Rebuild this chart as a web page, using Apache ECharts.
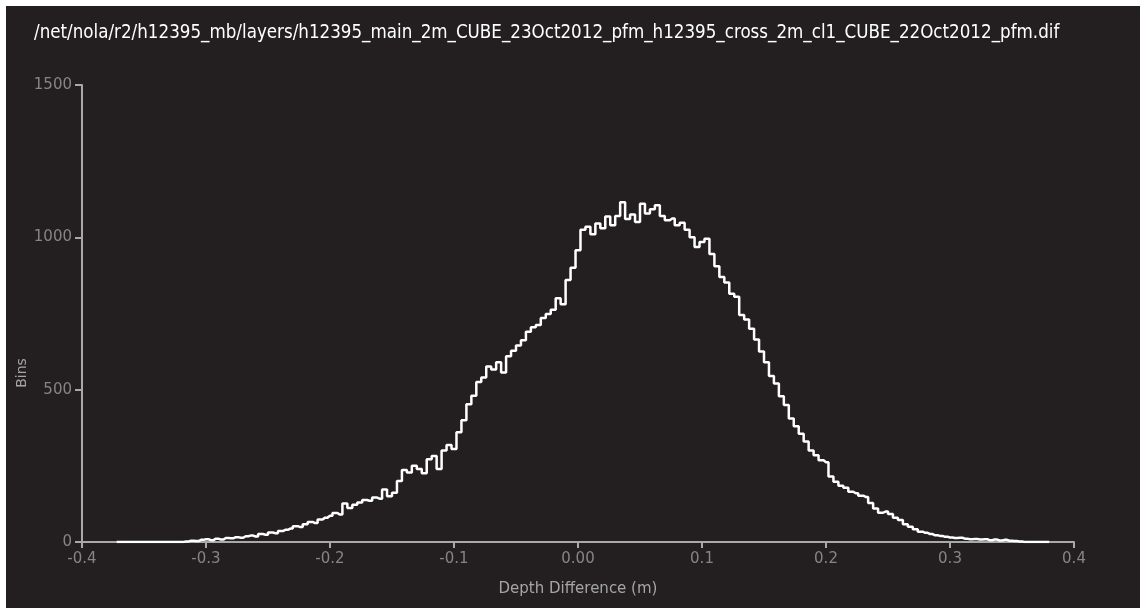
<!DOCTYPE html>
<html>
<head>
<meta charset="utf-8">
<script src="https://cdn.jsdelivr.net/npm/echarts@6/dist/echarts.min.js"></script>
<style>
  html, body { margin: 0; padding: 0; background: #ffffff; }
  #chart { position: absolute; left: 6px; top: 6px; width: 1134px; height: 602px; }
</style>
</head>
<body>
<div id="chart"></div>
<script>
// Histogram of depth differences, bins 0.004 m wide starting at -0.372 m
const titleText = '/net/nola/r2/h12395_mb/layers/h12395_main_2m_CUBE_23Oct2012_pfm_h12395_cross_2m_cl1_CUBE_22Oct2012_pfm.dif';
const yName = 'Bins';
const binStart = -0.372;
const binWidth = 0.004;

const counts = [
  0, 0, 0, 0, 0, 0, 0, 0, 0, 0, 0, 0, 0, 0,
  2, 4, 3, 7, 9, 6, 11, 8, 13, 12,
  16, 14, 19, 21, 18, 26, 24, 31, 29, 36,
  40, 44, 52, 49, 58, 66, 62, 74, 80, 86,
  95, 90, 126, 112, 122, 130, 138, 135, 146, 142,
  172, 150, 162, 200, 236, 228, 250, 240, 226, 272,
  282, 240, 300, 318, 305, 360, 400, 452, 480, 525,
  540, 576, 566, 590, 556, 610, 628, 645, 662, 690,
  705, 712, 735, 748, 762, 800, 780, 860, 900, 958,
  1025, 1035, 1010, 1045, 1030, 1068, 1040, 1070, 1115, 1060,
  1075, 1050, 1110, 1078, 1092, 1105, 1070, 1056, 1062, 1040,
  1048, 1025, 1000, 968, 985, 995, 945, 905, 870, 852,
  815, 805, 745, 730, 700, 665, 625, 590, 545, 520,
  478, 450, 405, 380, 355, 330, 300, 285, 268, 262,
  215, 198, 185, 178, 165, 160, 152, 148, 128, 110,
  96, 100, 92, 80, 72, 58, 50, 42, 34, 30,
  26, 22, 20, 17, 15, 13, 14, 11, 9, 10,
  8, 9, 6, 8, 5, 7, 4, 3, 2,
  0, 0, 0, 0, 0, 0
];

const xTicks = [-0.4, -0.3, -0.2, -0.1, 0, 0.1, 0.2, 0.3, 0.4];
const yTicks = [0, 500, 1000, 1500];

// pair each count with its bin centre
const seriesData = counts.map((c, i) => [+(binStart + i * binWidth).toFixed(3), c]);

const chart = echarts.init(document.getElementById('chart'));

const axisGrey = '#a9a9a9';
const labelGrey = '#858585';
const fontFam = 'DejaVu Sans';

const option = {
  backgroundColor: '#231f20',
  animation: false,
  title: {
    text: titleText,
    left: 28,
    top: 18,
    padding: 0,
    textStyle: { color: '#ffffff', fontFamily: 'DejaVu Sans Condensed', fontSize: 18.6, fontWeight: 'normal' }
  },
  // y-axis name sits below the axis middle in the original, so place it by hand
  graphic: [{
    type: 'text',
    x: 16,
    y: 367,
    rotation: Math.PI / 2,
    style: {
      text: yName, fill: '#a5a5a5', font: '14px "DejaVu Sans"',
      align: 'center', verticalAlign: 'middle'
    }
  }],
  grid: { left: 76, right: 66, top: 79, bottom: 66, containLabel: false, outerBoundsMode: 'none' },
  xAxis: {
    type: 'value',
    min: xTicks[0],
    max: xTicks[xTicks.length - 1],
    interval: 0.1,
    name: 'Depth Difference (m)',
    nameLocation: 'middle',
    nameGap: 40,
    nameTextStyle: { color: '#a5a5a5', fontFamily: fontFam, fontSize: 15 },
    axisLine: { show: true, onZero: false, lineStyle: { color: axisGrey, width: 2 } },
    axisTick: { show: true, length: 6, lineStyle: { color: axisGrey, width: 2 } },
    axisLabel: {
      color: labelGrey, fontFamily: fontFam, fontSize: 15, margin: 10,
      formatter: v => (Math.abs(v) < 1e-9 ? '0.00' : v.toFixed(1))
    },
    splitLine: { show: false }
  },
  yAxis: {
    type: 'value',
    min: yTicks[0],
    max: yTicks[yTicks.length - 1],
    interval: 500,
    axisLine: { show: true, onZero: false, lineStyle: { color: axisGrey, width: 2 } },
    axisTick: { show: true, length: 7, lineStyle: { color: axisGrey, width: 2 } },
    axisLabel: { color: labelGrey, fontFamily: fontFam, fontSize: 15, margin: 10, formatter: v => String(v) },
    splitLine: { show: false }
  },
  series: [{
    type: 'line',
    data: seriesData,
    step: 'middle',
    showSymbol: false,
    lineStyle: { color: '#ffffff', width: 2.5 }
  }]
};

chart.setOption(option);
</script>
</body>
</html>
